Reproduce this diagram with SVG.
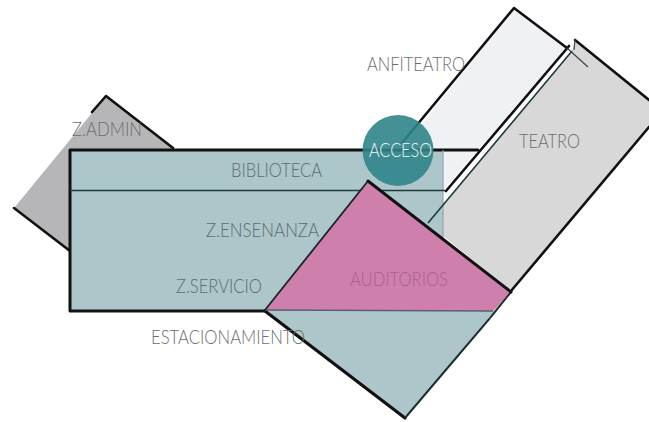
<svg xmlns="http://www.w3.org/2000/svg" width="649" height="422" viewBox="0 0 649 422">
<style>
.e{fill:none;stroke:#111;stroke-width:2.6;stroke-linecap:round;stroke-linejoin:round}
.t{stroke:#1d3a3e;stroke-width:1.6;fill:none}
.g{fill:#6b6d70}
text{font-family:"Lato","Liberation Sans",sans-serif;font-weight:300;font-size:20px;fill:#5c6b70}
</style>
<rect width="649" height="422" fill="#fff"/>
<g id="anfiteatro">
<polygon points="514,8 567,48 478,150 443,190 443,150 402,150" fill="#f0f1f4"/>
<path class="e" d="M402,143 L514,8 L567,48"/>
<path class="e" d="M569,46 L446,191"/>
<text class="g" x="367" y="71" textLength="98" lengthAdjust="spacingAndGlyphs">ANFITEATRO</text>
</g>
<g id="teatro">
<polygon points="575,41 649,100 649,126 511,291 443,236 443,205 572,51" fill="#d8d8d8"/>
<path class="e" d="M575,40 L649,100"/>
<path class="e" d="M649,127 L511,291"/>
<path d="M575,39 L574,50 M567,48 L588,67" stroke="#444" stroke-width="1.2" fill="none"/>
<text class="g" x="519" y="148" textLength="61" lengthAdjust="spacingAndGlyphs">TEATRO</text>
</g>
<g id="z-admin">
<polygon points="106,96 173,149 70,252 14,208" fill="#b6b6b9"/>
<path class="e" d="M173,148 L106,96 L92,112"/>
<path class="e" d="M14,208 L70,251"/>
<text class="g" x="72" y="136" textLength="70" lengthAdjust="spacingAndGlyphs">Z.ADMIN</text>
</g>
<g id="biblioteca">
<rect x="70" y="150" width="373" height="161" fill="#adc6ca"/>
<path class="e" d="M478,150 L70,150 L70,311 L265,311" style="stroke-width:3"/>
<path d="M443,150 V240" stroke="#8fa8ac" stroke-width="1.2"/>
<path class="t" d="M70,190.500 H445"/>
<path d="M572,51 L428,223" stroke="#1d3a3e" stroke-width="1.6" fill="none"/>
<text x="231" y="177" textLength="91" lengthAdjust="spacingAndGlyphs">BIBLIOTECA</text>
<text x="206" y="237" textLength="113" lengthAdjust="spacingAndGlyphs">Z.ENSENANZA</text>
<text x="176" y="293" textLength="86" lengthAdjust="spacingAndGlyphs">Z.SERVICIO</text>
</g>
<g id="estacionamiento">
<polygon points="265,311 493,311 510,292 405,418" fill="#adc6ca"/>
<path class="e" d="M265,311 L405,418" style="stroke-width:3.2"/>
<path d="M405,418 L490,318" stroke="#1d2f33" stroke-width="2"/>
<text class="g" x="151" y="344" textLength="154" lengthAdjust="spacingAndGlyphs">ESTACIONAMIENTO</text>
</g>
<g id="auditorios">
<polygon points="368,181 511,292 493,311 265,310" fill="#cf7fab"/>
<path d="M265,310 L493,311" stroke="#5d5d78" stroke-width="1.6"/>
<path d="M490,318 L511,292" stroke="#1d2f33" stroke-width="2"/>
<path d="M265,310 L368,181" stroke="#1a2326" stroke-width="1.8" fill="none"/>
<path class="e" d="M368,181 L511,292" style="stroke-width:3"/>
<text x="350" y="286" textLength="98" lengthAdjust="spacingAndGlyphs" style="fill:#a8628f">AUDITORIOS</text>
</g>
<g id="acceso">
<circle cx="398" cy="150.500" r="35.500" fill="#2f8489" fill-opacity="0.9"/>
<text x="369" y="157" textLength="63" lengthAdjust="spacingAndGlyphs" style="fill:#f2f7f7">ACCESO</text>
</g>
</svg>
